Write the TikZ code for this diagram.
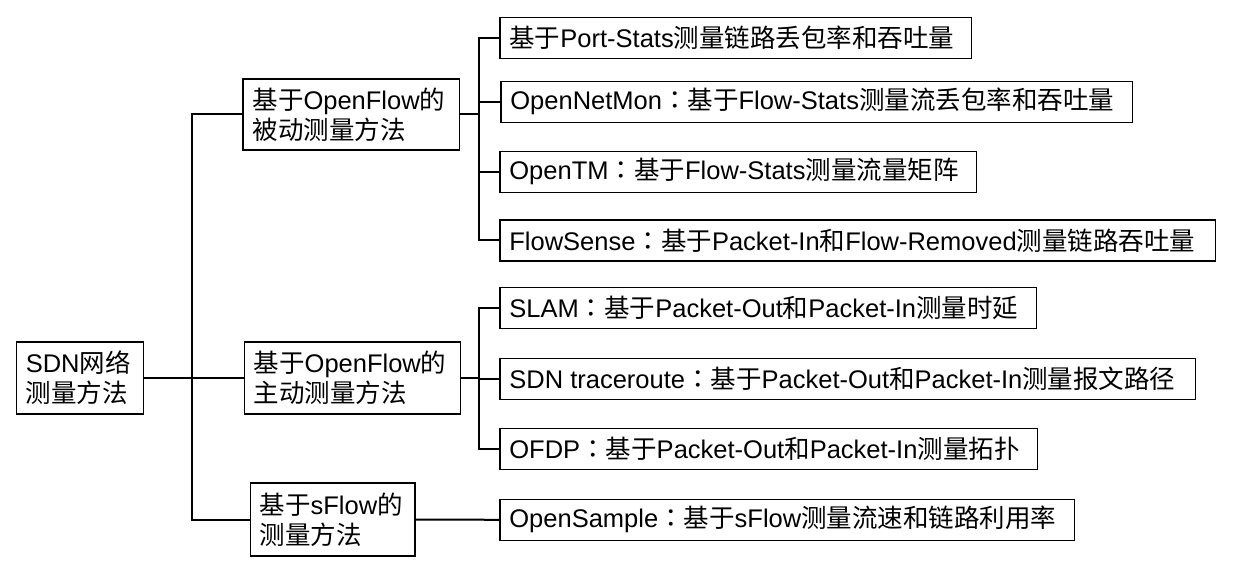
\documentclass[tikz,border=0pt]{standalone}
\usepackage{fontspec}
\setmainfont{Liberation Sans}
\newfontfamily\cjk{Noto Sans CJK SC}
\newfontfamily\cjktc{Noto Sans CJK TC}
\newcommand\zh[1]{{\cjk #1}}
\newcommand\zhc{{\cjktc ：}}
\begin{document}
\begin{tikzpicture}[x=1pt,y=-1pt,
  box/.style={draw, line width=1.2pt, anchor=west, inner xsep=9.5pt, inner ysep=0pt,
    font=\fontsize{25.5}{30}\selectfont},
  mbox/.style={box, align=left},
  conn/.style={line width=2pt, line join=miter}]
\useasboundingbox (0,0) rectangle (1241,577);
% root
\node[mbox, text width=108pt, minimum height=72pt] (root) at (15.7,378) {SDN\zh{网络}\\\zh{测量方法}};
% middle level
\node[mbox, text width=197.3pt, minimum height=71pt] (mid1) at (242.4,114.5) {\zh{基于}OpenFlow\zh{的}\\\zh{被动测量方法}};
\node[mbox, text width=196.9pt, minimum height=72pt] (mid2) at (243.6,378) {\zh{基于}OpenFlow\zh{的}\\\zh{主动测量方法}};
\node[mbox, text width=145.9pt, minimum height=73pt] (mid3) at (249.5,519.5) {\zh{基于}sFlow\zh{的}\\\zh{测量方法}};
% leaves
\node[box, minimum height=41pt] (l1) at (499.3,37.8) {\makebox[452.7pt][l]{\zh{基于}Port-Stats\zh{测量链路丢包率和吞吐量}}};
\node[box, minimum height=41pt] (l2) at (500.3,101.7) {\makebox[612.7pt][l]{OpenNetMon\zhc\zh{基于}Flow-Stats\zh{测量流丢包率和吞吐量}}};
\node[box, minimum height=41pt] (l3) at (499.3,171.8) {\makebox[457.7pt][l]{OpenTM\zhc\zh{基于}Flow-Stats\zh{测量流量矩阵}}};
\node[box, minimum height=41pt] (l4) at (499.3,240.5) {\makebox[696.7pt][l]{FlowSense\zhc\zh{基于}Packet-In\zh{和}Flow-Removed\zh{测量链路吞吐量}}};
\node[box, minimum height=41pt] (l5) at (499.3,308.3) {\makebox[517.7pt][l]{SLAM\zhc\zh{基于}Packet-Out\zh{和}Packet-In\zh{测量时延}}};
\node[box, minimum height=41pt] (l6) at (499.3,378.7) {\makebox[676.7pt][l]{SDN traceroute\zhc\zh{基于}Packet-Out\zh{和}Packet-In\zh{测量报文路径}}};
\node[box, minimum height=41pt] (l7) at (499.3,449.2) {\makebox[518.7pt][l]{OFDP\zhc\zh{基于}Packet-Out\zh{和}Packet-In\zh{测量拓扑}}};
\node[box, minimum height=41pt] (l8) at (499.3,519.8) {\makebox[555.7pt][l]{OpenSample\zhc\zh{基于}sFlow\zh{测量流速和链路利用率}}};
% trunk coordinates
\coordinate (t1) at (192,378);
\coordinate (t2) at (478.5,0);
% first level connectors
\draw[conn] (root.east) -- (mid2.west);
\draw[conn] (mid1.west) -| (t1) |- (mid3.west);
% passive group
\draw[conn] (mid1.east) -- (mid1.east -| t2);
\draw[conn] (l1.west) -| (l4.west -| t2) -- (l4.west);
\draw[conn] (l2.west) -- (l2.west -| t2);
\draw[conn] (l3.west) -- (l3.west -| t2);
% active group
\draw[conn] (mid2.east) -- (mid2.east -| t2);
\draw[conn] (l5.west) -| (l7.west -| t2) -- (l7.west);
\draw[conn] (l6.west) -- (l6.west -| t2);
% sFlow
\draw[conn] (mid3.east) -- (l8.west);
\end{tikzpicture}
\end{document}
